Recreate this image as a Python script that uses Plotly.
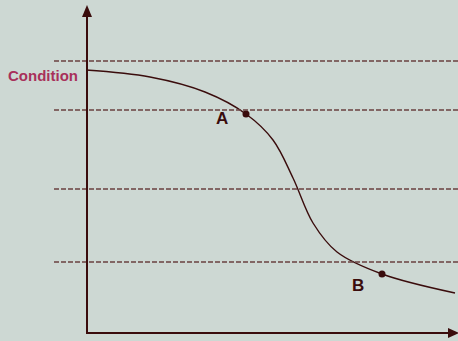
import plotly.graph_objects as go

# curve traced in pixel space of the 458x341 canvas (y grows downward)
curve_x = [86, 150, 205, 246, 273, 293, 313, 337, 382, 455]
curve_y = [70, 77, 92, 114, 140, 178, 223, 252, 274, 293]

point_labels = ["A", "B"]
point_x = [246, 382]
point_y = [114, 274]

level_y = [61, 110, 189, 262]

BG = "#cdd8d3"
INK = "#3a0c0c"
DASH = "#6a4040"

fig = go.Figure()

for y in level_y:
    fig.add_shape(type="line", x0=54, x1=458, y0=y, y1=y,
                  line={"color": DASH, "width": 1.3, "dash": "5px,2px"})

# axes
fig.add_shape(type="line", x0=87, x1=87, y0=334, y1=14, line={"color": INK, "width": 2})
fig.add_shape(type="line", x0=86, x1=452, y0=333, y1=333, line={"color": INK, "width": 2})
fig.add_shape(type="path", path="M 82 17 L 92 17 L 87 5 Z", fillcolor=INK, line={"width": 0})
fig.add_shape(type="path", path="M 448 328 L 448 338 L 459 333 Z", fillcolor=INK, line={"width": 0})

fig.add_trace(go.Scatter(
    x=curve_x, y=curve_y, mode="lines",
    line={"color": INK, "width": 1.4, "shape": "spline", "smoothing": 1.0},
    hoverinfo="skip",
))
fig.add_trace(go.Scatter(
    x=point_x, y=point_y, mode="markers",
    marker={"color": INK, "size": 7}, hoverinfo="skip",
))

label_dy = {"A": 4, "B": 11}
for lbl, x, y in zip(point_labels, point_x, point_y):
    fig.add_annotation(x=x - 24, y=y + label_dy[lbl], text=f"<b>{lbl}</b>", showarrow=False,
                       font={"family": "Liberation Sans", "size": 17, "color": INK},
                       xanchor="center", yanchor="middle")

fig.add_annotation(x=43, y=75, text="<b>Condition</b>", showarrow=False,
                   font={"family": "Liberation Sans", "size": 15, "color": "#a8305a"},
                   xanchor="center", yanchor="middle")

fig.update_layout(
    width=458, height=341,
    margin={"l": 0, "r": 0, "t": 0, "b": 0},
    paper_bgcolor=BG, plot_bgcolor=BG,
    showlegend=False,
    xaxis={"range": [0, 458], "visible": False, "fixedrange": True},
    yaxis={"range": [341, 0], "visible": False, "fixedrange": True},
)

fig.write_html(
    "out.html",
    config={"displayModeBar": False},
    post_script="document.body.style.margin='0';document.body.style.overflow='hidden';",
)
